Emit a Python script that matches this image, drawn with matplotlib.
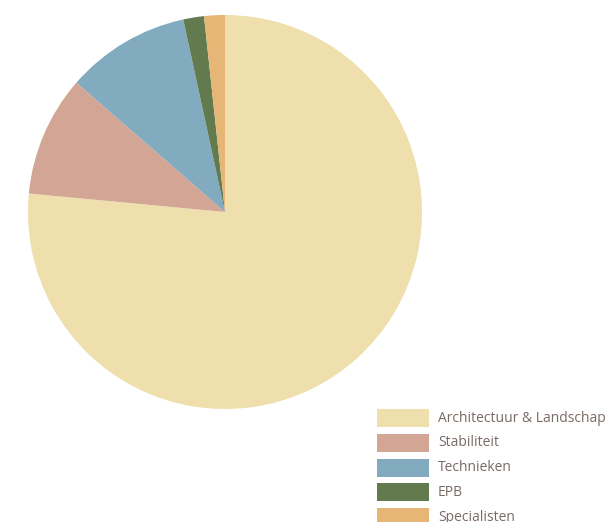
import matplotlib
matplotlib.use("Agg")
import matplotlib.pyplot as plt
from matplotlib.patches import Rectangle

labels = ["Architectuur & Landschap", "Stabiliteit", "Technieken", "EPB", "Specialisten"]
values = [76.5, 9.9, 10.2, 1.7, 1.7]
colors = ["#EEDFAD", "#D2A595", "#82ABBF", "#627A4E", "#E5B676"]
text_color = "#7A6A64"

W, H = 611, 522
fig = plt.figure(figsize=(W / 100, H / 100), dpi=100)

cx, cy, r = 225, 212, 197
ax = fig.add_axes([(cx - r) / W, (H - cy - r) / H, 2 * r / W, 2 * r / H])
ax.pie(values, colors=colors, startangle=90, counterclock=False, radius=1,
       wedgeprops=dict(linewidth=0))
ax.set_xlim(-1, 1)
ax.set_ylim(-1, 1)
ax.set_aspect("auto")
ax.axis("off")

# legend drawn manually in pixel coordinates
x0, pw, ph = 377, 52, 18
y_first = 409
step = 24.8
for i, (lab, col) in enumerate(zip(labels, colors)):
    top = y_first + i * step
    fig.patches.append(Rectangle((x0 / W, 1 - (top + ph) / H), pw / W, ph / H,
                                 transform=fig.transFigure, facecolor=col,
                                 edgecolor="none"))
    fig.text(438 / W, 1 - (top + ph / 2) / H, lab, fontsize=10, family="Open Sans",
             color=text_color, va="center", ha="left")

fig.savefig("out.png", dpi=100)
